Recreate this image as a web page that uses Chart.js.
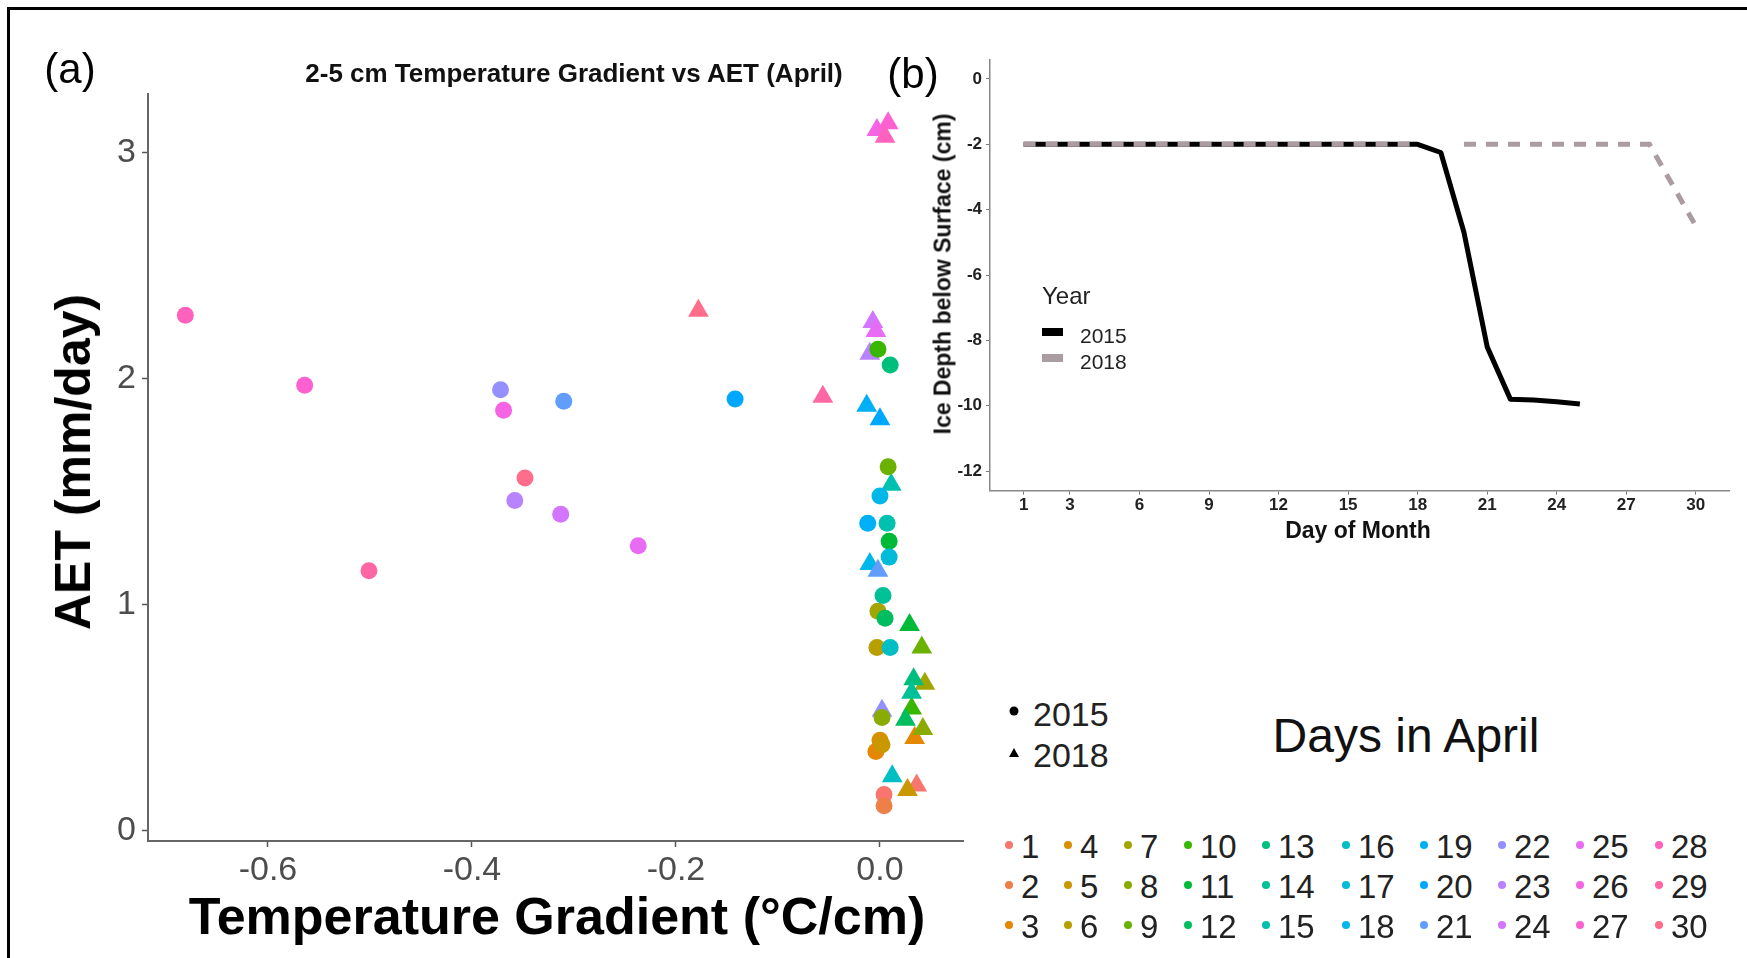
<!DOCTYPE html>
<html>
<head>
<meta charset="utf-8">
<script src="https://cdn.jsdelivr.net/npm/chart.js@4.4.0/dist/chart.umd.min.js"></script>
<style>
html, body { margin: 0; padding: 0; background: #fff; }
body { width: 1747px; height: 958px; position: relative; overflow: hidden; font-family: "Liberation Sans", Arial, sans-serif; }
canvas { position: absolute; }
.frame { position: absolute; left: 7px; top: 7px; width: 1760px; height: 980px; border-top: 3px solid #000; border-left: 3px solid #000; }
.t { position: absolute; white-space: nowrap; line-height: 1; transform: translate(-50%, -50%); color: #000; }
.rot { transform: translate(-50%, -50%) rotate(-90deg); }
.lg { position: absolute; white-space: nowrap; line-height: 1; transform: translateY(-50%); color: #222; }
.dot { position: absolute; border-radius: 50%; transform: translate(-50%, -50%); }
</style>
</head>
<body>
<div class="frame"></div>
<canvas id="chartA" width="1000" height="958" style="left:0;top:0"></canvas>
<canvas id="chartB" width="847" height="560" style="left:900px;top:0"></canvas>

<div class="t" style="left:70px;top:69px;font-size:42px">(a)</div>
<div class="t" style="left:913px;top:74px;font-size:42px">(b)</div>
<div class="t" style="left:574px;top:73px;font-size:26px;font-weight:bold;color:#111">2-5 cm Temperature Gradient vs AET (April)</div>
<div class="t rot" style="left:73px;top:462px;font-size:50px;font-weight:bold">AET (mm/day)</div>
<div class="t" style="left:557px;top:916px;font-size:52px;font-weight:bold">Temperature Gradient (°C/cm)</div>
<div class="t" style="left:1358px;top:530px;font-size:23px;font-weight:bold;color:#111">Day of Month</div>
<div class="t rot" style="left:943px;top:274px;font-size:23px;font-weight:bold;color:#111">Ice Depth below Surface (cm)</div>
<div class="lg" style="left:1042px;top:296px;font-size:24px">Year</div>
<div id="legend"></div>

<script>
// panel (a): 2-5 cm temperature gradient vs AET, one point per April day
const day2015 = [1, 2, 3, 4, 5, 6, 7, 8, 9, 10, 11, 12, 13, 14, 15, 16, 17, 18, 19, 20, 21, 22, 23, 24, 25, 26, 27, 28, 29, 30]
const grad2015 = [0.004, 0.004, -0.004, 0.000, 0.002, -0.003, -0.002, 0.002, 0.008, -0.002, 0.009, 0.005, 0.010, 0.003, 0.007,
                  0.010, 0.009, 0.000, -0.012, -0.142, -0.310, -0.372, -0.358, -0.313, -0.237, -0.369, -0.564, -0.681, -0.501, -0.348]
const aet2015 = [0.16, 0.11, 0.35, 0.40, 0.38, 0.81, 0.97, 0.50, 1.61, 2.13, 1.28, 0.94, 2.06, 1.04, 1.36,
                 0.81, 1.21, 1.48, 1.36, 1.91, 1.90, 1.95, 1.46, 1.40, 1.26, 1.86, 1.97, 2.28, 1.15, 1.56]

const day2018 = [1, 3, 5, 7, 8, 9, 10, 11, 12, 13, 14, 15, 16, 18, 19, 20, 21, 22, 23, 24, 25, 26, 27, 28, 29, 30]
const grad2018 = [0.036, 0.034, 0.027, 0.044, 0.042, 0.041, 0.031, 0.029, 0.025, 0.033, 0.031, 0.011, 0.012,
                  -0.010, -0.013, 0.000, -0.002, 0.002, -0.010, -0.007, -0.004, -0.003, 0.008, 0.005, -0.056, -0.178]
const aet2018 = [0.20, 0.41, 0.18, 0.65, 0.45, 0.81, 0.54, 0.91, 0.49, 0.67, 0.61, 1.53, 0.24,
                 1.18, 1.88, 1.82, 1.15, 0.53, 2.11, 2.25, 2.21, 3.10, 3.13, 3.07, 1.92, 2.30]

const gradTicks = [-0.6, -0.4, -0.2, 0.0]
const aetTicks = [0, 1, 2, 3]

// panel (b): ice depth below surface by day of month
const monthDays = [1, 2, 3, 4, 5, 6, 7, 8, 9, 10, 11, 12, 13, 14, 15, 16, 17, 18, 19, 20, 21, 22, 23, 24, 25, 26, 27, 28, 29, 30]
const depth2015 = [-2, -2, -2, -2, -2, -2, -2, -2, -2, -2, -2, -2, -2, -2, -2, -2, -2, -2,
                   -2.25, -4.7, -8.2, -9.8, -9.83, -9.88, -9.95, null, null, null, null, null]
const depth2018 = [-2, -2, -2, -2, -2, -2, -2, -2, -2, -2, -2, -2, -2, -2, -2, -2, -2, -2,
                   null, -2, -2, -2, -2, -2, -2, -2, -2, -2, -3.25, -4.5]
const dayTicks = [1, 3, 6, 9, 12, 15, 18, 21, 24, 27, 30]
const depthTicks = [0, -2, -4, -6, -8, -10, -12]

const yearLabels = ['2015', '2018']

// ggplot-style hue palette (hcl, c=100, l=65)
function hcl(h, c, l) {
    const hr = h * Math.PI / 180
    const u = c * Math.cos(hr), v = c * Math.sin(hr)
    const Xn = 95.047, Yn = 100, Zn = 108.883
    const un = 4 * Xn / (Xn + 15 * Yn + 3 * Zn), vn = 9 * Yn / (Xn + 15 * Yn + 3 * Zn)
    const Y = l > 8 ? Yn * Math.pow((l + 16) / 116, 3) : Yn * l / 903.3
    const up = u / (13 * l) + un, vp = v / (13 * l) + vn
    const X = 9 * Y * up / (4 * vp)
    const Z = Y * (12 - 3 * up - 20 * vp) / (4 * vp)
    const x = X / 100, y = Y / 100, z = Z / 100
    let rgb = [
        3.2404542 * x - 1.5371385 * y - 0.4985314 * z,
        -0.9692660 * x + 1.8760108 * y + 0.0415560 * z,
        0.0556434 * x - 0.2040259 * y + 1.0572252 * z
    ]
    rgb = rgb.map(c => {
        c = c <= 0.0031308 ? 12.92 * c : 1.055 * Math.pow(c, 1 / 2.4) - 0.055
        return Math.round(Math.max(0, Math.min(1, c)) * 255)
    })
    return 'rgb(' + rgb.join(',') + ')'
}
function dayColor(d) {
    return hcl(15 + 360 * (d - 1) / 30, 100, 65)
}

Chart.defaults.font.family = '"Liberation Sans", Arial, sans-serif'

const chartA = new Chart(document.getElementById('chartA'), {
    type: 'scatter',
    data: {
        datasets: [
            {
                label: yearLabels[0],
                data: day2015.map((d, i) => ({ x: grad2015[i], y: aet2015[i] })),
                pointStyle: 'circle',
                pointRadius: 8.5,
                backgroundColor: day2015.map(dayColor),
                borderWidth: 0
            },
            {
                label: yearLabels[1],
                data: day2018.map((d, i) => ({ x: grad2018[i], y: aet2018[i] })),
                pointStyle: 'triangle',
                pointRadius: 12,
                backgroundColor: day2018.map(dayColor),
                borderWidth: 0
            }
        ]
    },
    options: {
        responsive: false,
        animation: false,
        events: [],
        layout: { autoPadding: false, padding: { left: 78, right: 37, top: 94, bottom: 57 } },
        plugins: { legend: { display: false }, tooltip: { enabled: false } },
        scales: {
            x: {
                type: 'linear',
                min: -0.7176,
                max: 0.0814,
                afterFit: s => { s.height = 60 },
                afterBuildTicks: s => { s.ticks = gradTicks.map(v => ({ value: v })) },
                grid: { drawOnChartArea: false, drawTicks: true, tickLength: 6, tickColor: '#555', tickWidth: 1.5 },
                border: { display: true, color: '#666', width: 2 },
                ticks: { font: { size: 34 }, color: '#4d4d4d', padding: 3, maxRotation: 0, autoSkip: false,
                         callback: v => v.toFixed(1) }
            },
            y: {
                type: 'linear',
                min: -0.046,
                max: 3.259,
                afterFit: s => { s.width = 70 },
                afterBuildTicks: s => { s.ticks = aetTicks.map(v => ({ value: v })) },
                grid: { drawOnChartArea: false, drawTicks: true, tickLength: 6, tickColor: '#555', tickWidth: 1.5 },
                border: { display: true, color: '#666', width: 2 },
                ticks: { font: { size: 34 }, color: '#4d4d4d', padding: 6, autoSkip: false }
            }
        }
    }
})

const chartB = new Chart(document.getElementById('chartB'), {
    type: 'line',
    data: {
        datasets: [
            {
                label: yearLabels[1],
                data: monthDays.map((d, i) => ({ x: d, y: depth2018[i] })),
                borderColor: '#ab9ca1',
                borderWidth: 5,
                borderDash: [12, 10],
                borderCapStyle: 'butt',
                pointRadius: 0,
                tension: 0,
                spanGaps: false
            },
            {
                label: yearLabels[0],
                data: monthDays.map((d, i) => ({ x: d, y: depth2015[i] })),
                borderColor: '#000',
                borderWidth: 5,
                borderJoinStyle: 'round',
                pointRadius: 0,
                tension: 0,
                spanGaps: false
            }
        ]
    },
    options: {
        responsive: false,
        animation: false,
        events: [],
        layout: { autoPadding: false, padding: { left: 40, right: 17.6, top: 59.4, bottom: 29.4 } },
        plugins: { legend: { display: false }, tooltip: { enabled: false } },
        scales: {
            x: {
                type: 'linear',
                min: -0.45,
                max: 31.45,
                afterFit: s => { s.height = 40 },
                afterBuildTicks: s => { s.ticks = dayTicks.map(v => ({ value: v })) },
                grid: { drawOnChartArea: false, drawTicks: true, tickLength: 4, tickColor: '#777', tickWidth: 1 },
                border: { display: true, color: '#888', width: 1.5 },
                ticks: { font: { size: 17, weight: 'bold' }, color: '#222', padding: 1, maxRotation: 0, autoSkip: false }
            },
            y: {
                type: 'linear',
                min: -12.6,
                max: 0.6,
                afterFit: s => { s.width = 50 },
                afterBuildTicks: s => { s.ticks = depthTicks.map(v => ({ value: v })) },
                grid: { drawOnChartArea: false, drawTicks: true, tickLength: 4, tickColor: '#777', tickWidth: 1 },
                border: { display: true, color: '#888', width: 1.5 },
                ticks: { font: { size: 17, weight: 'bold' }, color: '#222', padding: 4, autoSkip: false }
            }
        }
    }
})

// legends (HTML)
const legend = document.getElementById('legend')
function add(html) { legend.insertAdjacentHTML('beforeend', html) }

// year keys for panel (b)
add('<div style="position:absolute;left:1042px;top:328px;width:21px;height:8px;background:#000"></div>')
add('<div style="position:absolute;left:1042px;top:354px;width:21px;height:8px;background:#ab9ca1"></div>')
add('<div class="lg" style="left:1080px;top:335px;font-size:21px">' + yearLabels[0] + '</div>')
add('<div class="lg" style="left:1080px;top:361px;font-size:21px">' + yearLabels[1] + '</div>')

// shape legend for panel (a)
add('<div class="dot" style="left:1014px;top:711px;width:9px;height:9px;background:#000"></div>')
add('<div style="position:absolute;left:1009px;top:748px;width:0;height:0;border-left:5px solid transparent;border-right:5px solid transparent;border-bottom:9px solid #000"></div>')
add('<div class="lg" style="left:1033px;top:714px;font-size:34px">' + yearLabels[0] + '</div>')
add('<div class="lg" style="left:1033px;top:755px;font-size:34px">' + yearLabels[1] + '</div>')
add('<div class="t" style="left:1406px;top:736px;font-size:48px;color:#111">Days in April</div>')

// colour legend, 3 rows by column
const colX = [1009, 1068, 1128, 1188, 1266, 1346, 1424, 1502, 1580, 1659]
const rowY = [845, 885, 925]
monthDays.forEach((d, i) => {
    const cx = colX[Math.floor(i / 3)], cy = rowY[i % 3]
    add('<div class="dot" style="left:' + cx + 'px;top:' + cy + 'px;width:8px;height:8px;background:' + dayColor(d) + '"></div>')
    add('<div class="lg" style="left:' + (cx + 12) + 'px;top:' + (cy + 1) + 'px;font-size:33px">' + d + '</div>')
})
</script>
</body>
</html>
